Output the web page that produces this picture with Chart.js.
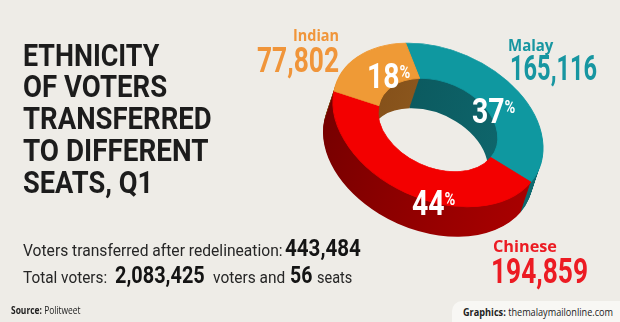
<!DOCTYPE html>
<html>
<head>
<meta charset="utf-8">
<title>Ethnicity of voters transferred to different seats, Q1</title>
<script src="https://cdn.jsdelivr.net/npm/chart.js@4.4.1/dist/chart.umd.min.js"></script>
<style>
  html, body { margin: 0; padding: 0; }
  body { width: 620px; height: 322px; overflow: hidden; position: relative; background: #eeece7; }
  #chart { position: absolute; left: 0; top: 0; }
  .t { position: absolute; left: 0; top: 0; white-space: nowrap; line-height: 1; transform-origin: 0 0; }
  .title { font: 700 31px Roboto, sans-serif; color: #1c1c1c; }
  .note { font: 400 17px Roboto, sans-serif; color: #262626; }
  .big { font: 700 23px Roboto, sans-serif; color: #141414; }
  .credit { font: 400 10px "Open Sans", sans-serif; color: #222; }
  .credit b { font-weight: 700; }
  .cat { font: 700 16px "Open Sans", sans-serif; }
  .count { font: 700 35px Roboto, sans-serif; }
  .pct { font: 700 35px Roboto, sans-serif; color: #fff; }
  .pct span { font-size: 18px; vertical-align: 10px; }
  #tag { position: absolute; left: 452px; top: 301px; width: 168px; height: 21px; background: #f8f7f4; border-top-left-radius: 10px; }
</style>
</head>
<body>
<canvas id="chart" width="620" height="322"></canvas>
<div id="tag"></div>
<script>
// ---- data ----
const categories = ['Malay', 'Chinese', 'Indian'];
const voters = [165116, 194859, 77802];
const transferredTotal = 443484;
const totalVoters = 2083425;
const totalSeats = 56;
const titleLines = ['ETHNICITY', 'OF VOTERS', 'TRANSFERRED', 'TO DIFFERENT', 'SEATS, Q1'];

// ---- styling ----
const faceColors = ['#0f98a0', '#f30000', '#ef9a36'];
const sideShades = [['#0a5358', '#0f6a70'], ['#760000', '#a80000'], ['#7e4a16', '#a26c2a']];
const labelColors = ['#1796a1', '#ec1b23', '#f0953a'];

// ring tilt: rotate the flat doughnut, squash it, and extrude it downwards
const DEG = Math.PI / 180;
const TILT = 24 * DEG;
const SQUASH = 0.682;
const EXTRUDE = { x: -10, y: 30 };
const SIDE_STEPS = 32;

const fmt = v => v.toLocaleString('en-US');

function tiltRing(ctx, cx, cy, dx, dy) {
  ctx.translate(cx + dx, cy + dy);
  ctx.rotate(TILT);
  ctx.scale(1, SQUASH);
  ctx.translate(-cx, -cy);
}

function ringPath(ctx, a) {
  ctx.beginPath();
  ctx.arc(a.x, a.y, a.outerRadius, a.startAngle, a.endAngle);
  ctx.arc(a.x, a.y, a.innerRadius, a.endAngle, a.startAngle, true);
  ctx.closePath();
}

// maps a point of the flat doughnut onto the tilted ring
function tiltPoint(cx, cy, px, py) {
  const dx = px - cx, dy = (py - cy) * SQUASH;
  return {
    x: cx + dx * Math.cos(TILT) - dy * Math.sin(TILT),
    y: cy + dx * Math.sin(TILT) + dy * Math.cos(TILT)
  };
}

const ring3d = {
  id: 'ring3d',
  beforeDatasetDraw(chart, args) {
    const ctx = chart.ctx;
    const arcs = args.meta.data;
    const cx = arcs[0].x, cy = arcs[0].y, R = arcs[0].outerRadius;
    for (let s = SIDE_STEPS; s >= 1; s--) {
      const f = s / SIDE_STEPS;
      ctx.save();
      tiltRing(ctx, cx, cy, EXTRUDE.x * f, EXTRUDE.y * f);
      arcs.forEach((a, i) => {
        const g = ctx.createLinearGradient(cx - R, 0, cx + R, 0);
        g.addColorStop(0, sideShades[i][0]);
        g.addColorStop(1, sideShades[i][1]);
        ringPath(ctx, a);
        ctx.fillStyle = g;
        ctx.fill();
      });
      ctx.restore();
    }
    ctx.save();
    tiltRing(ctx, cx, cy, 0, 0);
  },
  afterDatasetDraw(chart) {
    chart.ctx.restore();
  }
};

const chart = new Chart(document.getElementById('chart'), {
  type: 'doughnut',
  data: {
    labels: categories,
    datasets: [{
      data: voters,
      backgroundColor: faceColors,
      borderColor: faceColors,
      borderWidth: 1,
      hoverOffset: 0,
      clip: false
    }]
  },
  options: {
    responsive: false,
    devicePixelRatio: 1,
    animation: false,
    events: [],
    rotation: -34.8,
    cutout: '57%',
    radius: 110,
    layout: { padding: { left: 328, right: 72, top: 15, bottom: 87 } },
    plugins: { legend: { display: false }, tooltip: { enabled: false } }
  },
  plugins: [ring3d]
});

// ---- text ----
function fitText(el, { x, base, w, align = 'left' }) {
  const mark = document.createElement('span');
  mark.style.cssText = 'display:inline-block;width:0;height:0;vertical-align:baseline';
  el.appendChild(mark);
  const natural = el.offsetWidth;
  const baseline = mark.offsetTop;
  const s = w ? w / natural : 1;
  const left = align === 'right' ? x - natural * s : align === 'center' ? x - natural * s / 2 : x;
  el.style.left = left + 'px';
  el.style.top = (base - baseline) + 'px';
  el.style.transform = 'scaleX(' + s + ')';
}

function addText(cls, html, box, color) {
  const el = document.createElement('div');
  el.className = 't ' + cls;
  el.innerHTML = html;
  if (color) el.style.color = color;
  document.body.appendChild(el);
  fitText(el, box);
  return el;
}

// title block
const titleBase = [66, 97, 129, 161, 193];
const titleRight = [159, 167, 212, 208, 153];
titleLines.forEach((line, i) => addText('title', line, { x: 23, base: titleBase[i], w: titleRight[i] - 23 }));

// summary lines
addText('note', 'Voters transferred after redelineation:', { x: 23, base: 256, w: 260 });
addText('big', fmt(transferredTotal), { x: 285, base: 256, w: 76 });
addText('note', 'Total voters:', { x: 23, base: 282.5, w: 84 });
addText('big', fmt(totalVoters), { x: 115, base: 282.5, w: 90 });
addText('note', 'voters and', { x: 213, base: 282.5, w: 72 });
addText('big', String(totalSeats), { x: 290, base: 282.5, w: 22 });
addText('note', 'seats', { x: 317, base: 282.5, w: 35 });

// credits
addText('credit', '<b>Source:</b> Politweet', { x: 11, base: 314, w: 70 });
addText('credit', '<b>Graphics:</b> themalaymailonline.com', { x: 463, base: 315.5, w: 150 });

// callouts: category name above its count
const calloutName = [
  { x: 508, base: 50.5, w: 45 },
  { x: 493, base: 251.5, w: 64 },
  { x: 339, base: 40.5, w: 46, align: 'right' }
];
const calloutCount = [
  { x: 510, base: 80, w: 87 },
  { x: 491, base: 283, w: 97 },
  { x: 339, base: 71.7, w: 82, align: 'right' }
];
categories.forEach((c, i) => {
  addText('cat', c, calloutName[i], labelColors[i]);
  addText('count', fmt(voters[i]), calloutCount[i], labelColors[i]);
});

// percentage labels on the ring faces
const pctNudge = [[-7.5, 11.5], [20.5, 24.5], [14, 3.5]];
const meta = chart.getDatasetMeta(0);
meta.data.forEach((a, i) => {
  const mid = (a.startAngle + a.endAngle) / 2;
  const r = (a.innerRadius + a.outerRadius) / 2;
  const p = tiltPoint(a.x, a.y, a.x + r * Math.cos(mid), a.y + r * Math.sin(mid));
  const pct = Math.round(voters[i] / transferredTotal * 100);
  addText('pct', pct + '<span>%</span>', {
    x: p.x + pctNudge[i][0], base: p.y + pctNudge[i][1] + 12.5, w: 43, align: 'center'
  });
});
</script>
</body>
</html>
